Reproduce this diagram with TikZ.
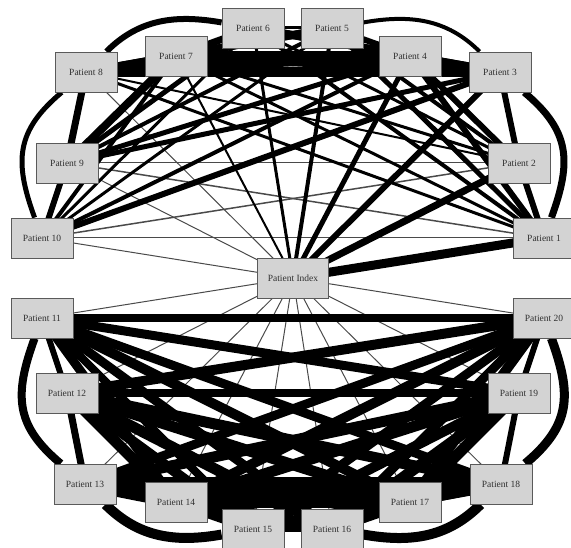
\documentclass[tikz,border=0pt]{standalone}
\usepackage{fontspec}
\setmainfont{Liberation Serif}
\pgfdeclarelayer{edges}
\pgfsetlayers{edges,main}
\definecolor{boxfill}{HTML}{D3D3D3}
\definecolor{boxline}{HTML}{5A5A5A}
\definecolor{labeltext}{HTML}{303030}
\definecolor{thinline}{HTML}{4A4A4A}
\begin{document}
\begin{tikzpicture}[x=1pt,y=1pt,
  patient/.style={draw=boxline, line width=0.8pt, fill=boxfill,
    minimum width=62pt, minimum height=40pt, inner sep=1pt,
    font=\fontsize{9.5}{11}\selectfont, text=labeltext},
  weak/.style={draw=thinline, line width=1pt},
  tie/.style={line width=#1pt},
  curved/.style={looseness=1.2}]
\useasboundingbox (0,0) rectangle (571,548);
\clip (0,0) rectangle (571,548);

% patients of the upper cluster
\node[patient] (n6)  at (253,520) {Patient 6};
\node[patient] (n5)  at (332,520) {Patient 5};
\node[patient] (n7)  at (176,492) {Patient 7};
\node[patient] (n4)  at (410,492) {Patient 4};
\node[patient] (n8)  at (86,476)  {Patient 8};
\node[patient] (n3)  at (500,476) {Patient 3};
\node[patient] (n9)  at (67,385)  {Patient 9};
\node[patient] (n2)  at (519,385) {Patient 2};
\node[patient] (n10) at (42,310)  {Patient 10};
\node[patient] (n1)  at (544,310) {Patient 1};
% index case
\node[patient, minimum width=71pt] (nI) at (293,270) {Patient Index};
% patients of the lower cluster
\node[patient] (n11) at (42,230)  {Patient 11};
\node[patient] (n20) at (544,230) {Patient 20};
\node[patient] (n12) at (67,155)  {Patient 12};
\node[patient] (n19) at (519,155) {Patient 19};
\node[patient] (n13) at (85,64)   {Patient 13};
\node[patient] (n18) at (501,64)  {Patient 18};
\node[patient] (n14) at (176,46)  {Patient 14};
\node[patient] (n17) at (410,46)  {Patient 17};
\node[patient] (n15) at (253,19)  {Patient 15};
\node[patient] (n16) at (332,19)  {Patient 16};

\begin{pgfonlayer}{edges}
  % faint links
  \foreach \a/\b in {I/8,I/9,I/10,1/10,2/9,I/11,I/12,I/13,I/14,I/15,I/16,I/17,I/18,I/19,I/20}
    \draw[weak] (n\a.center) -- (n\b.center);
  \foreach \a/\b in {1/9,2/10}
    \draw[weak, line width=1.5pt] (n\a.center) -- (n\b.center);
  % upper cluster
  \foreach \a/\b/\w in {
    I/1/9, I/2/7, I/3/6, I/4/5, I/5/4, I/6/3, I/7/2,
    1/2/6, 1/4/6, 1/5/5, 1/6/4, 1/7/3, 1/8/3,
    2/3/6, 2/4/6, 2/5/4, 2/6/3, 2/7/3, 2/8/2,
    3/4/8, 3/6/8, 3/7/9, 3/8/10, 3/9/5, 3/10/6,
    4/5/6, 4/6/8, 4/7/10, 4/8/9, 4/9/5, 4/10/4,
    5/6/3, 5/7/8, 5/8/8, 5/9/4, 5/10/3,
    6/7/7, 6/9/5, 6/10/3,
    7/8/8, 7/9/8, 7/10/4,
    8/9/7, 9/10/6}
    \draw[tie=\w] (n\a.center) -- (n\b.center);
  \draw[tie=5, curved] (n8) to[out=-140, in=110] (n10);
  \draw[tie=6] (n8) to[out=45, in=170] (n6);
  \draw[tie=4] (n5) to[out=10, in=135] (n3);
  \draw[tie=7, curved] (n3) to[out=-40, in=70] (n1);
  % lower cluster
  \foreach \a/\b/\w in {
    11/12/6, 11/14/9, 11/15/8, 11/16/9, 11/17/10, 11/18/9, 11/19/9, 11/20/8,
    12/13/7, 12/14/11, 12/15/10, 12/16/11, 12/17/11, 12/18/11, 12/19/8, 12/20/10,
    13/14/13, 13/16/13, 13/17/14, 13/18/13, 13/19/11, 13/20/9,
    14/15/10, 14/16/12, 14/17/13, 14/18/13, 14/19/11, 14/20/10,
    15/16/7, 15/17/12, 15/18/12, 15/19/10, 15/20/9,
    16/17/10, 16/19/11, 16/20/9,
    17/18/10, 17/19/11, 17/20/10,
    18/19/6, 19/20/6}
    \draw[tie=\w] (n\a.center) -- (n\b.center);
  \draw[tie=8, curved] (n13) to[out=140, in=-110] (n11);
  \draw[tie=10] (n13) to[out=-45, in=-170] (n15);
  \draw[tie=10] (n16) to[out=-10, in=-135] (n18);
  \draw[tie=9, curved] (n18) to[out=40, in=-70] (n20);
\end{pgfonlayer}
\end{tikzpicture}
\end{document}
